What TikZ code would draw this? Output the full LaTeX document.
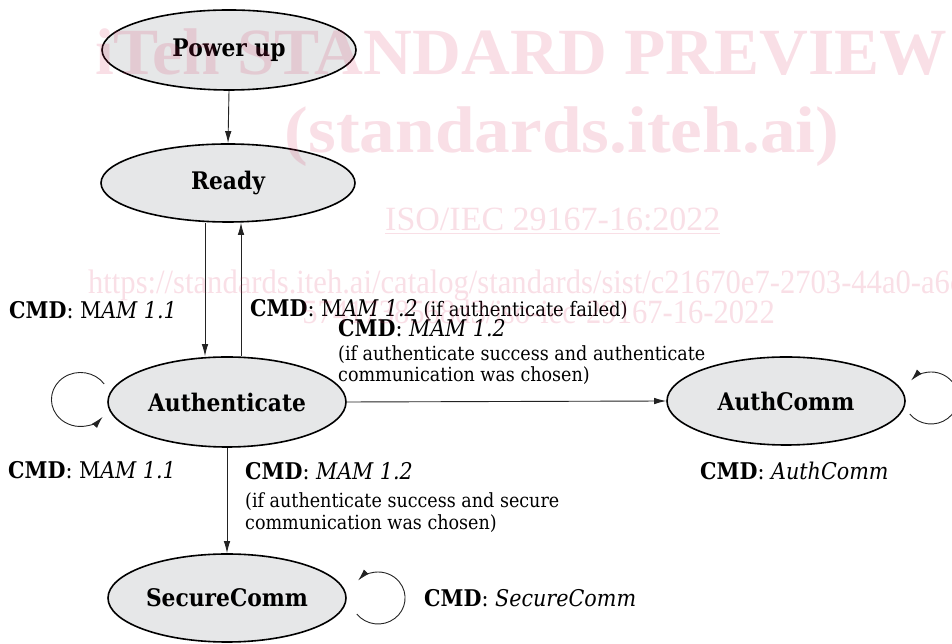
\documentclass[tikz,border=0pt]{standalone}
\usepackage{fontspec}
\setmainfont{DejaVu Serif}[FakeStretch=0.9]
\newfontfamily\wmfont{Liberation Serif}
\usetikzlibrary{arrows.meta,calc,shapes.geometric}
\definecolor{statefill}{RGB}{230,231,232}
\definecolor{wmpink}{RGB}{215,40,90}
\definecolor{linegray}{RGB}{35,35,35}
\newcommand{\bigcmd}[1]{{\fontsize{23}{27}\selectfont #1}}
\begin{document}
\begin{tikzpicture}[x=1pt,y=1pt,
  state/.style={ellipse, draw=black, line width=1.6pt, fill=statefill, inner sep=0pt,
    font=\bfseries\fontsize{24.2}{28}\selectfont},
  conn/.style={draw=linegray, line width=0.9pt, -{Latex[length=12pt,width=6.5pt]}},
  cmd/.style={anchor=west, inner sep=0pt, font=\fontsize{20}{24}\selectfont},
  cond/.style={anchor=west, inner sep=0pt, font=\fontsize{19.5}{23}\selectfont},
  wm/.style={text=wmpink, text opacity=0.15, inner sep=0pt}
]
\useasboundingbox (0,0) rectangle (952,644);
\begin{scope}
\clip (0,0) rectangle (952,644);
% states
\node[state, minimum width=254pt, minimum height=80pt] (pu) at (229,594) {Power up};
\node[state, minimum width=254pt, minimum height=78pt] (ready) at (228,461) {Ready};
\node[state, minimum width=238pt, minimum height=90pt] (auth) at (227,242) {Authenticate};
\node[state, minimum width=238pt, minimum height=88pt] (authcomm) at (786,243) {AuthComm};
\node[state, minimum width=238pt, minimum height=88pt] (secure) at (227,46) {SecureComm};
% connectors
\draw[conn] (pu.south) -- (ready.north);
\draw[conn] ([xshift=-23pt]ready.south) -- ([xshift=-22pt]auth.north);
\draw[conn] ([xshift=14pt]auth.north) -- ([xshift=13pt]ready.south);
\draw[conn] (auth.east) -- (authcomm.west);
\draw[conn] (auth.south) -- (secure.north);
% self loops
\coordinate (authloop) at ($(auth.west)+(-3,18)$);
\draw[conn] (authloop) arc[start angle=35, end angle=320, x radius=29, y radius=27];
\coordinate (secloop) at ($(secure.east)+(10,-16)$);
\draw[conn] (secloop) arc[start angle=-142, end angle=138, x radius=27, y radius=26];
\coordinate (acloop) at ($(authcomm.east)+(4,-13)$);
\draw[conn] (acloop) arc[start angle=-142, end angle=138, x radius=27, y radius=26];
% labels
\node[cmd] (l1) at (9,334) {\bigcmd{\textbf{CMD}: M\textit{AM 1.1}}};
\node[cmd] (l2) at (250,334) {\bigcmd{\textbf{CMD}: M\textit{AM 1.2}} (if authenticate failed)};
\node[cmd] (l3) at (338,316) {\bigcmd{\textbf{CMD}: \textit{MAM 1.2}}};
\node[cond] (l3a) at (338,289) {(if authenticate success and authenticate};
\node[cond] (l3b) at (338,268) {communication was chosen)};
\node[cmd] (l4) at (8,174) {\bigcmd{\textbf{CMD}: M\textit{AM 1.1}}};
\node[cmd] (l5) at (245,173) {\bigcmd{\textbf{CMD}: \textit{MAM 1.2}}};
\node[cond] (l5a) at (245,142) {(if authenticate success and secure};
\node[cond] (l5b) at (245,120) {communication was chosen)};
\node[cmd] (l6) at (700,173) {\bigcmd{\textbf{CMD}: \textit{AuthComm}}};
\node[cmd] (l7) at (424,46) {\bigcmd{\textbf{CMD}: \textit{SecureComm}}};
% watermark
\node[wm, anchor=base west, xscale=1.024, font=\wmfont\bfseries\fontsize{66}{70}\selectfont] (w1) at (95,569) {iTeh STANDARD PREVIEW};
\node[wm, anchor=base, xscale=1.08, font=\wmfont\bfseries\fontsize{66}{70}\selectfont] (w2) at (562,491) {(standards.iteh.ai)};
\node[wm, anchor=base west, font=\wmfont\fontsize{34}{36}\selectfont] (w3) at (385,413) {\underline{ISO/IEC 29167-16:2022}};
\node[wm, anchor=base west, xscale=0.9, font=\wmfont\fontsize{34}{36}\selectfont] (w4) at (88,350) {https://standards.iteh.ai/catalog/standards/sist/c21670e7-2703-44a0-a6c5-};
\node[wm, anchor=base east, xscale=0.9, font=\wmfont\fontsize{34}{36}\selectfont] (w5) at (775,320) {5741738568d3/iso-iec-29167-16-2022};
\end{scope}
\end{tikzpicture}
\end{document}
